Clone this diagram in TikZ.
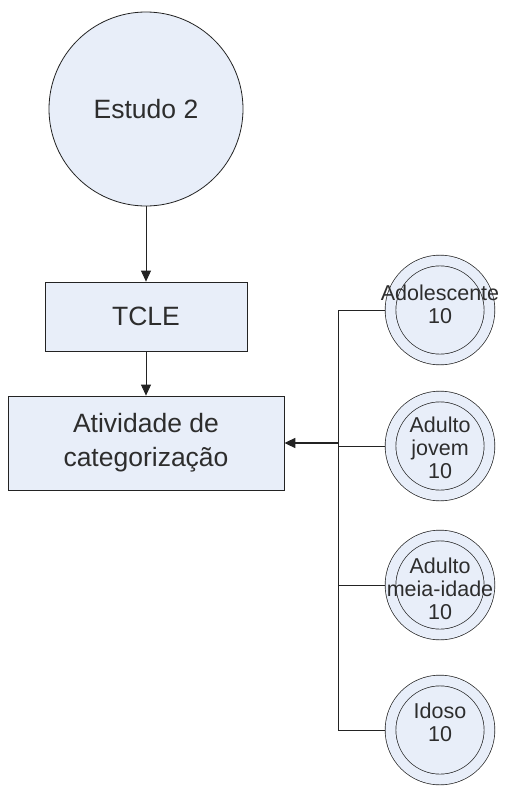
\documentclass[tikz,border=0pt]{standalone}
\usepackage{fontspec}
\setmainfont{Liberation Sans}
\usetikzlibrary{arrows.meta}

\definecolor{boxfill}{RGB}{232,238,249}
\definecolor{linegray}{RGB}{35,35,35}
\definecolor{textgray}{RGB}{45,45,45}

\begin{document}
\begin{tikzpicture}[x=1pt,y=-1pt,
    caixa/.style={draw=linegray,fill=boxfill,line width=0.8pt,text=textgray,
      align=center,font=\fontsize{26.5}{34}\selectfont},
    grupo/.style={circle,draw=linegray,line width=0.7pt,fill=boxfill,
      double=boxfill,double distance=10pt,minimum size=99pt,inner sep=0pt,outer sep=5.7pt},
    rotulo/.style={align=center,text=textgray,font=\fontsize{21.5}{23}\selectfont},
    seta/.style={-{Triangle[length=11pt,width=10pt]},line width=0.8pt,draw=linegray}]
  \useasboundingbox (0,0) rectangle (508,798);

  % Study
  \node[caixa,circle,minimum size=194pt,inner sep=0pt] (est) at (146,109) {Estudo 2};

  % Steps
  \node[caixa,minimum width=202pt,minimum height=69pt] (tcle) at (146,316.5) {TCLE};
  \node[caixa,minimum width=276pt,minimum height=94pt] (ativ) at (146,443) {Atividade de\\categorização};

  % Age groups
  \foreach \nome/\y/\dy/\txt in {ado/310/-6/Adolescente\\10, jov/446/2/Adulto\\jovem\\10,
      mei/585/4/Adulto\\meia-idade\\10, ido/730/-8/Idoso\\10} {
    \node[grupo] (\nome) at (440,\y) {};
    \node[rotulo] (\nome txt) at (440,\y+\dy) {\txt};
  }

  % Connectors
  \coordinate (bus) at (338,443);
  \draw[seta] (est) -- (tcle);
  \draw[seta] (tcle) -- (ativ);
  \draw[line width=0.8pt,draw=linegray] (ado.west) -| (bus |- ido.west) -- (ido.west);
  \draw[line width=0.8pt,draw=linegray] (jov.west) -- (jov.west -| bus);
  \draw[line width=0.8pt,draw=linegray] (mei.west) -- (mei.west -| bus);
  \draw[seta,line width=1.6pt] (bus) -- (ativ.east);

\end{tikzpicture}
\end{document}
